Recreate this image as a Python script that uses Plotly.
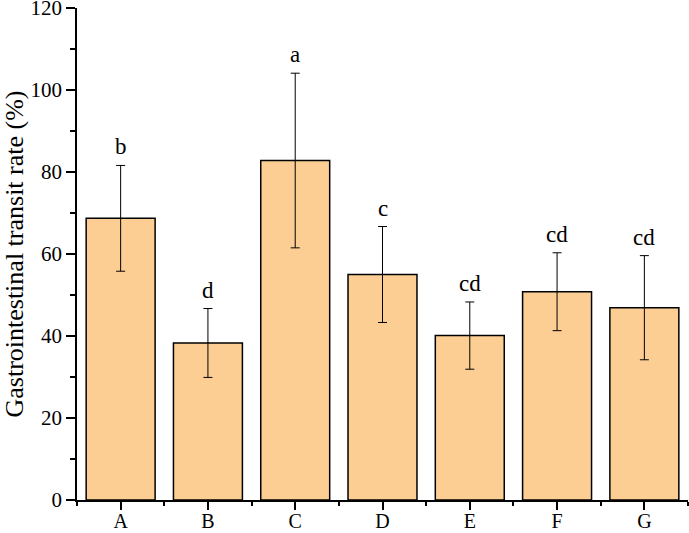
import plotly.graph_objects as go

groups = ['A', 'B', 'C', 'D', 'E', 'F', 'G']
transit_rate = [68.7, 38.3, 82.8, 55.0, 40.1, 50.8, 46.9]
transit_sd = [12.9, 8.4, 21.3, 11.7, 8.2, 9.5, 12.7]
sig_letters = ['b', 'd', 'a', 'c', 'cd', 'cd', 'cd']

FONT = 'Liberation Serif'
xpos = list(range(len(groups)))

fig = go.Figure()
fig.add_trace(go.Bar(
  x=xpos, y=transit_rate, width=0.79,
  marker=dict(color='#FDCE94', line=dict(color='black', width=1.5)),
  error_y=dict(type='data', array=transit_sd, visible=True, color='black', thickness=1, width=4.5),
  showlegend=False,
))

for x, y, sd, lab in zip(xpos, transit_rate, transit_sd, sig_letters):
  fig.add_annotation(x=x, y=y + sd, text=lab, showarrow=False, yanchor='bottom', yshift=4,
                     font=dict(family=FONT, size=23, color='black'))

fig.update_layout(
  width=689, height=533,
  margin=dict(l=77, r=1, t=8, b=33, autoexpand=False),
  paper_bgcolor='white', plot_bgcolor='white',
  font=dict(family=FONT, size=20, color='black'),
)
fig.update_xaxes(
  range=[-0.5, 6.5], tickmode='array', tickvals=xpos, ticktext=groups, automargin=False,
  showline=True, linecolor='black', linewidth=1.5, showgrid=False, zeroline=False,
  ticks='outside', ticklen=8, tickwidth=1.5, tickcolor='black', ticklabelstandoff=-6,
  minor=dict(tickmode='linear', tick0=-0.5, dtick=1, ticks='outside', ticklen=4, tickwidth=1.5, tickcolor='black', showgrid=False),
  tickfont=dict(family=FONT, size=20),
)
fig.update_yaxes(
  range=[0, 120], tickmode='linear', tick0=0, dtick=20, automargin=False, ticklabeloverflow='allow',
  showline=True, linecolor='black', linewidth=1.5, showgrid=False, zeroline=False,
  ticks='outside', ticklen=9, tickwidth=1.5, tickcolor='black',
  minor=dict(tickmode='linear', tick0=10, dtick=20, ticks='outside', ticklen=5, tickwidth=1.5, tickcolor='black', showgrid=False),
  tickfont=dict(family=FONT, size=21),
  title=dict(text='Gastrointestinal transit rate (%)', font=dict(family=FONT, size=26), standoff=6),
)

fig.write_html('out.html', config={'displayModeBar': False},
               post_script="document.body.style.margin='0';")
